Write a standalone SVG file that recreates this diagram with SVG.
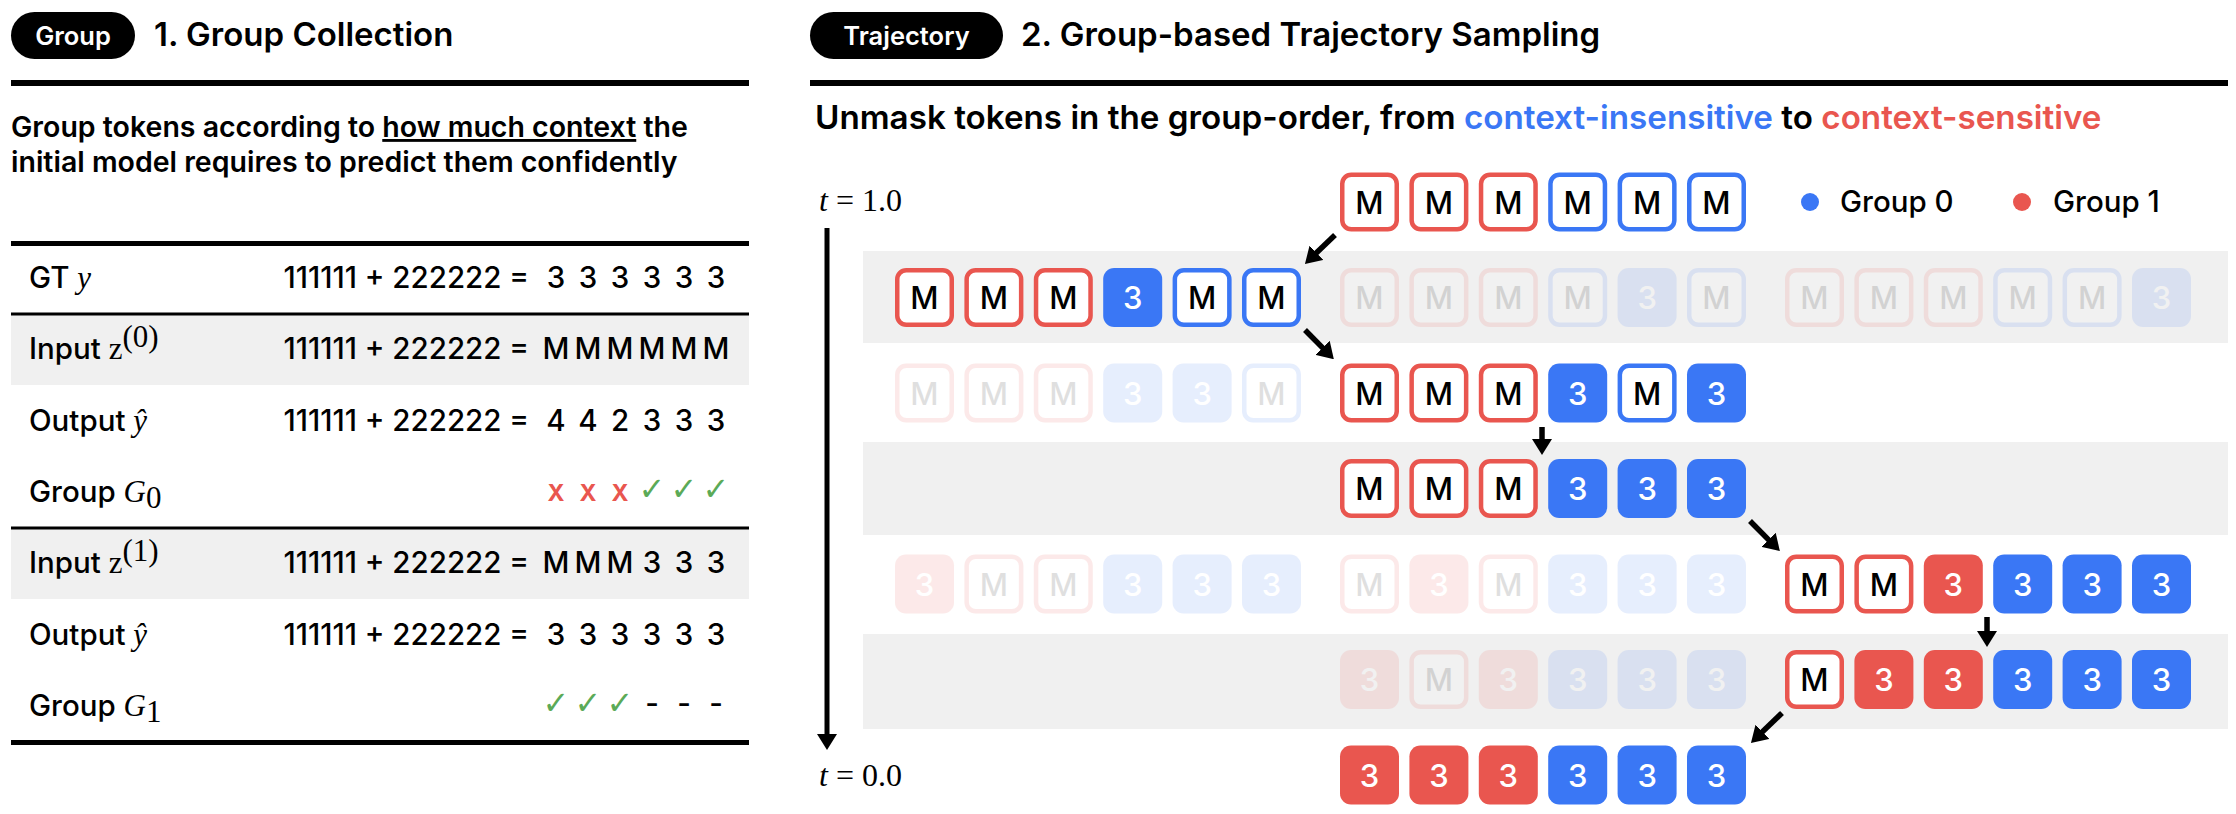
<svg xmlns="http://www.w3.org/2000/svg" xmlns:xlink="http://www.w3.org/1999/xlink" width="2236" height="814" viewBox="0 0 2236 814">
<style>
.sans{font-family:Inter,"Liberation Sans",sans-serif}
.math{font-family:"Liberation Serif","DejaVu Serif",serif}
.pill{font-family:Inter,"Liberation Sans",sans-serif;font-size:25.5px;font-weight:600;fill:#fff;text-anchor:middle}
.title{font-family:Inter,"Liberation Sans",sans-serif;font-size:33px;font-weight:600;fill:#000}
.para{font-family:Inter,"Liberation Sans",sans-serif;font-size:28.5px;font-weight:600;fill:#000}
.tb{font-family:Inter,"Liberation Sans",sans-serif;font-size:29.5px;font-weight:500;fill:#000}
.mt{font-family:"Liberation Serif","DejaVu Serif",serif;font-size:31px}
.c{text-anchor:middle}
.tok{font-family:Inter,"Liberation Sans",sans-serif;font-size:31px;font-weight:500;text-anchor:middle}
.band{fill:#F0F0F0}
.ghost{opacity:0.12}
.arrow{stroke:#000;stroke-width:5.5;fill:none;marker-end:url(#ah)}
.xm{font-family:Inter,"Liberation Sans",sans-serif;font-size:23px;font-weight:700;fill:#E9564F;text-anchor:middle}
.ck{font-family:"DejaVu Sans",sans-serif;font-size:32px;fill:#5BAA57;text-anchor:middle}
</style>
<defs>
<marker id="ah" viewBox="0 0 16 20" refX="4" refY="10" markerWidth="16" markerHeight="20" markerUnits="userSpaceOnUse" orient="auto">
<path d="M0,0 L16,10 L0,20 z" fill="#000"/>
</marker>
<g id="mR"><rect x="2.25" y="2.25" width="54.5" height="54.5" rx="9" fill="#fff" stroke="#E9564F" stroke-width="4.5"/><text x="29.5" y="41" class="tok" fill="#000">M</text></g>
<g id="mB"><rect x="2.25" y="2.25" width="54.5" height="54.5" rx="9" fill="#fff" stroke="#3A77F5" stroke-width="4.5"/><text x="29.5" y="41" class="tok" fill="#000">M</text></g>
<g id="fR"><rect x="0" y="0" width="59" height="59" rx="11" fill="#E9564F"/><text x="29.5" y="41" class="tok" fill="#fff">3</text></g>
<g id="fB"><rect x="0" y="0" width="59" height="59" rx="11" fill="#3A77F5"/><text x="29.5" y="41" class="tok" fill="#fff">3</text></g>
</defs>
<rect width="2236" height="814" fill="#fff"/>

<!-- ===== Left panel ===== -->
<g id="header-left">
<rect x="11" y="12" width="124" height="47" rx="23.5" fill="#000"/>
<text x="73" y="44.5" class="pill">Group</text>
<text x="154" y="46" class="title">1. Group Collection</text>
<rect x="11" y="80" width="738" height="6" fill="#000"/>
<text x="11" y="137" class="para">Group tokens according to <tspan text-decoration="underline">how much context</tspan> the</text>
<text x="11" y="172" class="para">initial model requires to predict them confidently</text>
</g>

<g id="table">
<rect x="11" y="314" width="738" height="71" class="band"/>
<rect x="11" y="528" width="738" height="71" class="band"/>
<rect x="11" y="241" width="738" height="5" fill="#000"/>
<rect x="11" y="312.5" width="738" height="3" fill="#000"/>
<rect x="11" y="526.5" width="738" height="3" fill="#000"/>
<rect x="11" y="740" width="738" height="5" fill="#000"/>

<g id="row-gt">
<text x="29" y="288" class="tb">GT <tspan class="mt" font-style="italic">y</tspan></text>
<text x="529" y="288" class="tb" text-anchor="end">111111 + 222222 =</text>
<g class="tb c"><text x="556" y="288">3</text><text x="588" y="288">3</text><text x="620" y="288">3</text><text x="652" y="288">3</text><text x="684" y="288">3</text><text x="716" y="288">3</text></g>
</g>
<g id="row-input0">
<text x="29" y="359" class="tb">Input <tspan class="mt">z</tspan><tspan class="mt" font-size="20" dy="-12">(0)</tspan></text>
<text x="529" y="359" class="tb" text-anchor="end">111111 + 222222 =</text>
<g class="tb c"><text x="556" y="359">M</text><text x="588" y="359">M</text><text x="620" y="359">M</text><text x="652" y="359">M</text><text x="684" y="359">M</text><text x="716" y="359">M</text></g>
</g>
<g id="row-output0">
<text x="29" y="431" class="tb">Output <tspan class="mt" font-style="italic">ŷ</tspan></text>
<text x="529" y="431" class="tb" text-anchor="end">111111 + 222222 =</text>
<g class="tb c"><text x="556" y="431">4</text><text x="588" y="431">4</text><text x="620" y="431">2</text><text x="652" y="431">3</text><text x="684" y="431">3</text><text x="716" y="431">3</text></g>
</g>
<g id="row-group0">
<text x="29" y="502" class="tb">Group <tspan class="mt" font-style="italic">G</tspan><tspan class="mt" font-size="20" dy="6">0</tspan></text>
<text x="556" y="501" class="xm">X</text><text x="588" y="501" class="xm">X</text><text x="620" y="501" class="xm">X</text>
<text x="652" y="500" class="ck">✓</text><text x="684" y="500" class="ck">✓</text><text x="716" y="500" class="ck">✓</text>
</g>
<g id="row-input1">
<text x="29" y="573" class="tb">Input <tspan class="mt">z</tspan><tspan class="mt" font-size="20" dy="-12">(1)</tspan></text>
<text x="529" y="573" class="tb" text-anchor="end">111111 + 222222 =</text>
<g class="tb c"><text x="556" y="573">M</text><text x="588" y="573">M</text><text x="620" y="573">M</text><text x="652" y="573">3</text><text x="684" y="573">3</text><text x="716" y="573">3</text></g>
</g>
<g id="row-output1">
<text x="29" y="645" class="tb">Output <tspan class="mt" font-style="italic">ŷ</tspan></text>
<text x="529" y="645" class="tb" text-anchor="end">111111 + 222222 =</text>
<g class="tb c"><text x="556" y="645">3</text><text x="588" y="645">3</text><text x="620" y="645">3</text><text x="652" y="645">3</text><text x="684" y="645">3</text><text x="716" y="645">3</text></g>
</g>
<g id="row-group1">
<text x="29" y="716" class="tb">Group <tspan class="mt" font-style="italic">G</tspan><tspan class="mt" font-size="20" dy="6">1</tspan></text>
<text x="556" y="714" class="ck">✓</text><text x="588" y="714" class="ck">✓</text><text x="620" y="714" class="ck">✓</text>
<g class="tb c" font-weight="600"><text x="652" y="714">-</text><text x="684" y="714">-</text><text x="716" y="714">-</text></g>
</g>
</g>

<!-- ===== Right panel ===== -->
<g id="header-right">
<rect x="810" y="12" width="193" height="47" rx="23.5" fill="#000"/>
<text x="906.5" y="44.5" class="pill">Trajectory</text>
<text x="1021" y="46" class="title">2. Group-based Trajectory Sampling</text>
<rect x="810" y="80" width="1418" height="6" fill="#000"/>
<text x="815" y="129" class="sans" font-size="33.2" font-weight="600" fill="#000">Unmask tokens in the group-order, from <tspan fill="#3A77F5">context-insensitive</tspan> to <tspan fill="#E9564F">context-sensitive</tspan></text>
</g>

<g id="legend">
<circle cx="1810" cy="202" r="9" fill="#3A77F5"/>
<text x="1840" y="212" class="tb">Group 0</text>
<circle cx="2022" cy="202" r="9" fill="#E9564F"/>
<text x="2053" y="212" class="tb">Group 1</text>
</g>

<g id="bands">
<rect x="863" y="251" width="1365" height="92" class="band"/>
<rect x="863" y="442" width="1365" height="93" class="band"/>
<rect x="863" y="634" width="1365" height="95" class="band"/>
</g>

<g id="time-axis">
<text x="819" y="211" class="math" font-size="32"><tspan font-style="italic">t</tspan> = 1.0</text>
<text x="819" y="786" class="math" font-size="32"><tspan font-style="italic">t</tspan> = 0.0</text>
</g>

<g id="step0">
<use href="#mR" x="1340" y="172.5"/><use href="#mR" x="1409.4" y="172.5"/><use href="#mR" x="1478.8" y="172.5"/><use href="#mB" x="1548.2" y="172.5"/><use href="#mB" x="1617.6" y="172.5"/><use href="#mB" x="1687" y="172.5"/>
</g>
<g id="step1">
<use href="#mR" x="895" y="268"/><use href="#mR" x="964.4" y="268"/><use href="#mR" x="1033.8" y="268"/><use href="#fB" x="1103.2" y="268"/><use href="#mB" x="1172.6" y="268"/><use href="#mB" x="1242" y="268"/>
</g>
<g id="step1-ghost-mid" class="ghost">
<use href="#mR" x="1340" y="268"/><use href="#mR" x="1409.4" y="268"/><use href="#mR" x="1478.8" y="268"/><use href="#mB" x="1548.2" y="268"/><use href="#fB" x="1617.6" y="268"/><use href="#mB" x="1687" y="268"/>
</g>
<g id="step1-ghost-right" class="ghost">
<use href="#mR" x="1785" y="268"/><use href="#mR" x="1854.4" y="268"/><use href="#mR" x="1923.8" y="268"/><use href="#mB" x="1993.2" y="268"/><use href="#mB" x="2062.6" y="268"/><use href="#fB" x="2132" y="268"/>
</g>
<g id="step2-ghost-left" class="ghost">
<use href="#mR" x="895" y="363.5"/><use href="#mR" x="964.4" y="363.5"/><use href="#mR" x="1033.8" y="363.5"/><use href="#fB" x="1103.2" y="363.5"/><use href="#fB" x="1172.6" y="363.5"/><use href="#mB" x="1242" y="363.5"/>
</g>
<g id="step2">
<use href="#mR" x="1340" y="363.5"/><use href="#mR" x="1409.4" y="363.5"/><use href="#mR" x="1478.8" y="363.5"/><use href="#fB" x="1548.2" y="363.5"/><use href="#mB" x="1617.6" y="363.5"/><use href="#fB" x="1687" y="363.5"/>
</g>
<g id="step3">
<use href="#mR" x="1340" y="459"/><use href="#mR" x="1409.4" y="459"/><use href="#mR" x="1478.8" y="459"/><use href="#fB" x="1548.2" y="459"/><use href="#fB" x="1617.6" y="459"/><use href="#fB" x="1687" y="459"/>
</g>
<g id="step4-ghost-left" class="ghost">
<use href="#fR" x="895" y="554.5"/><use href="#mR" x="964.4" y="554.5"/><use href="#mR" x="1033.8" y="554.5"/><use href="#fB" x="1103.2" y="554.5"/><use href="#fB" x="1172.6" y="554.5"/><use href="#fB" x="1242" y="554.5"/>
</g>
<g id="step4-ghost-mid" class="ghost">
<use href="#mR" x="1340" y="554.5"/><use href="#fR" x="1409.4" y="554.5"/><use href="#mR" x="1478.8" y="554.5"/><use href="#fB" x="1548.2" y="554.5"/><use href="#fB" x="1617.6" y="554.5"/><use href="#fB" x="1687" y="554.5"/>
</g>
<g id="step4">
<use href="#mR" x="1785" y="554.5"/><use href="#mR" x="1854.4" y="554.5"/><use href="#fR" x="1923.8" y="554.5"/><use href="#fB" x="1993.2" y="554.5"/><use href="#fB" x="2062.6" y="554.5"/><use href="#fB" x="2132" y="554.5"/>
</g>
<g id="step5-ghost-mid" class="ghost">
<use href="#fR" x="1340" y="650"/><use href="#mR" x="1409.4" y="650"/><use href="#fR" x="1478.8" y="650"/><use href="#fB" x="1548.2" y="650"/><use href="#fB" x="1617.6" y="650"/><use href="#fB" x="1687" y="650"/>
</g>
<g id="step5">
<use href="#mR" x="1785" y="650"/><use href="#fR" x="1854.4" y="650"/><use href="#fR" x="1923.8" y="650"/><use href="#fB" x="1993.2" y="650"/><use href="#fB" x="2062.6" y="650"/><use href="#fB" x="2132" y="650"/>
</g>
<g id="step6">
<use href="#fR" x="1340" y="745.5"/><use href="#fR" x="1409.4" y="745.5"/><use href="#fR" x="1478.8" y="745.5"/><use href="#fB" x="1548.2" y="745.5"/><use href="#fB" x="1617.6" y="745.5"/><use href="#fB" x="1687" y="745.5"/>
</g>

<g id="connectors">
<line x1="827" y1="228" x2="827" y2="738" stroke="#000" stroke-width="5" marker-end="url(#ah)"/>
<line class="arrow" x1="1335" y1="235" x2="1313.6" y2="255.6"/>
<line class="arrow" x1="1305" y1="330" x2="1325.4" y2="350.6"/>
<line class="arrow" x1="1542" y1="427" x2="1542" y2="443"/>
<line class="arrow" x1="1750" y1="521" x2="1771.4" y2="542.6"/>
<line class="arrow" x1="1987" y1="617" x2="1987" y2="635"/>
<line class="arrow" x1="1782" y1="713" x2="1759.6" y2="734.6"/>
</g>
</svg>
